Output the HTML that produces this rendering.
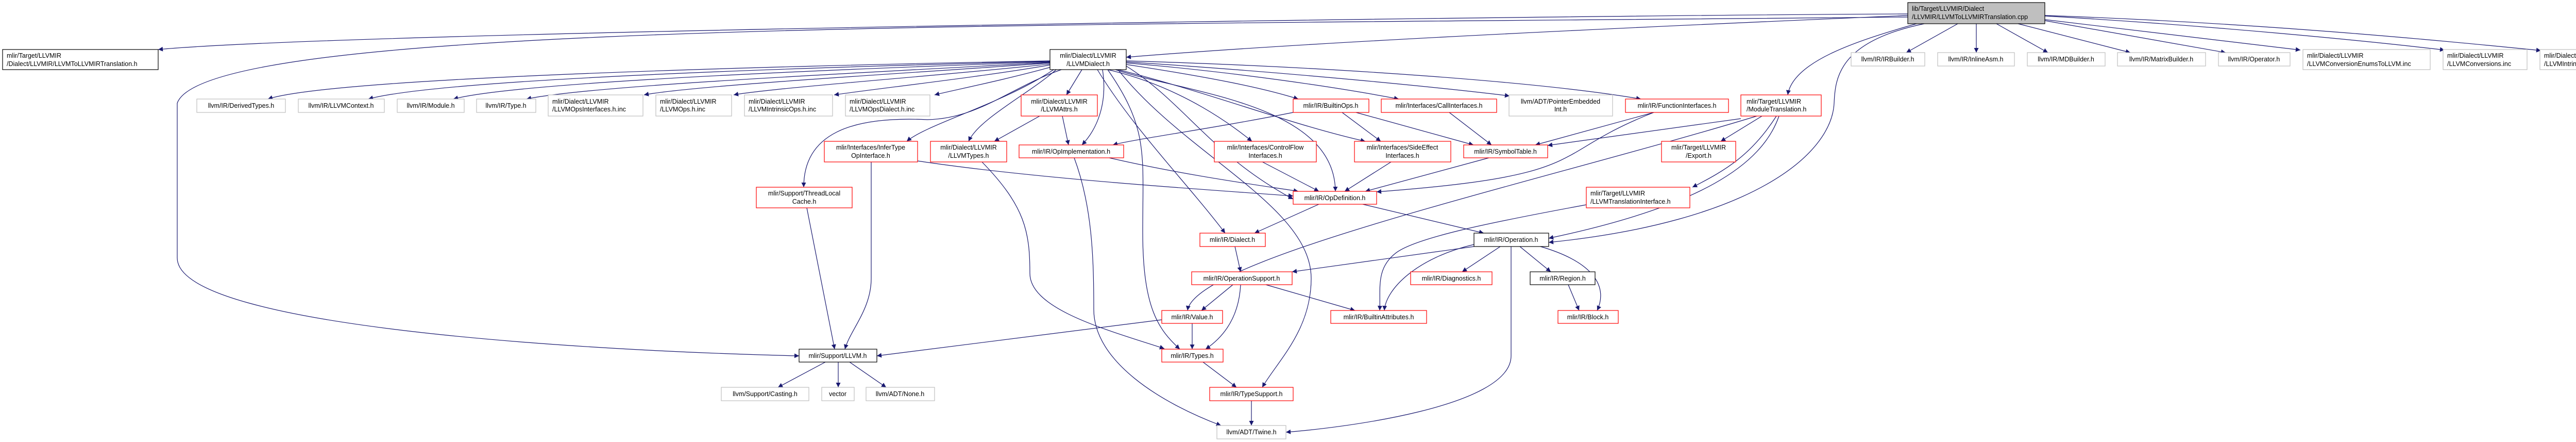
<!DOCTYPE html>
<html><head><meta charset="utf-8"><style>
html,body{margin:0;padding:0;background:#fff;}
svg{display:block;}
text{font-family:"Liberation Sans",sans-serif;font-size:12.5px;fill:#000;}
.e{fill:none;stroke:#191970;stroke-width:1.2;}
.b{fill:#fff;stroke:#000;stroke-width:1.2;}
.r{fill:#fff;stroke:#ff0000;stroke-width:1.2;}
.g{fill:#fff;stroke:#bfbfbf;stroke-width:1.2;}
.root{fill:#bfbfbf;stroke:#000;stroke-width:1.2;}
</style></head><body>
<svg width="5149" height="857" viewBox="0 0 5149 857" xmlns="http://www.w3.org/2000/svg">
<defs><marker id="a" viewBox="0 0 10 10" refX="10" refY="5" markerWidth="11" markerHeight="9" markerUnits="userSpaceOnUse" orient="auto"><path d="M0,0 L10,5 L0,10 z" fill="#191970"/></marker></defs>
<g class="e" marker-end="url(#a)">
<!-- root edges -->
<path d="M3703,27 C3000,30 700,60 307,96"/>
<path d="M3703,30 C3000,60 2500,85 2186,111"/>
<path d="M3703,33 C2000,50 400,40 344,200 L344,500 C344,640 1200,682 1551,690"/>
<path d="M3800,46 L3700,102"/>
<path d="M3836,46 L3836,102"/>
<path d="M3875,46 L3975,102"/>
<path d="M3917,46 L4135,102"/>
<path d="M3969,40 L4320,102"/>
<path d="M3969,38 L4465,97"/>
<path d="M3969,31 C4300,50 4600,80 4745,97"/>
<path d="M3969,30 C4400,45 4750,80 4932,98"/>
<path d="M3720,46 C3600,80 3480,120 3470,184"/>
<path d="M3735,46 C3570,80 3562,150 3560,200 C3555,300 3400,430 3006,470"/>
<!-- LLVMDialect edges -->
<path d="M2038,118 C1500,128 650,150 520,192"/>
<path d="M2038,119 C1500,132 850,155 715,192"/>
<path d="M2038,120 C1600,135 1000,160 880,192"/>
<path d="M2038,121 C1700,140 1150,165 1022,192"/>
<path d="M2038,122 C1800,140 1350,165 1250,184"/>
<path d="M2038,124 C1850,145 1500,170 1424,184"/>
<path d="M2038,126 C1900,150 1700,172 1619,184"/>
<path d="M2040,130 C1950,155 1850,175 1814,184"/>
<path d="M2100,135 L2070,184"/>
<path d="M2050,135 C2000,180 1900,230 1880,274"/>
<path d="M2045,135 C1950,200 1800,240 1760,274"/>
<path d="M2060,135 C1960,170 1900,230 1800,232 C1650,225 1560,260 1560,363"/>
<path d="M2140,135 C2150,200 2130,250 2100,281"/>
<path d="M2150,135 C2230,250 2218,300 2218,450 C2218,600 2250,640 2290,677"/>
<path d="M2170,135 C2300,300 2545,400 2545,540 C2545,640 2480,700 2450,751"/>
<path d="M2186,125 C2350,150 2450,170 2520,192"/>
<path d="M2186,122 C2400,140 2600,170 2715,192"/>
<path d="M2186,120 C2500,140 2800,170 2930,186"/>
<path d="M2186,118 C2600,130 3000,160 3185,192"/>
<path d="M2150,135 C2300,170 2400,250 2430,274"/>
<path d="M2170,135 C2350,180 2500,240 2650,274"/>
<path d="M2165,135 C2300,180 2590,200 2592,371"/>
<path d="M2130,135 C2200,250 2300,350 2378,452"/>
<path d="M2186,128 C2300,200 2350,300 2510,386"/>
<!-- other edges -->
<path d="M2085,306 C2120,400 2123,500 2123,600 C2123,700 2250,780 2370,825"/>
<path d="M2018,225 L1930,274"/>
<path d="M2062,225 L2074,281"/>
<path d="M1781,312 C2000,345 2300,365 2510,380"/>
<path d="M1691,314 L1691,540 C1691,600 1650,640 1640,677"/>
<path d="M1906,314 C1990,400 1999,450 1999,530 C1999,600 2150,640 2260,676"/>
<path d="M2153,306 C2300,340 2450,360 2520,371"/>
<path d="M1566,403 L1620,677"/>
<path d="M2510,218 C2350,250 2200,270 2160,281"/>
<path d="M2605,218 L2680,274"/>
<path d="M2632,218 L2860,281"/>
<path d="M2813,218 L2895,281"/>
<path d="M3210,218 L2980,281"/>
<path d="M3210,218 C3000,300 3100,340 2672,372"/>
<path d="M3379,230 L3004,282"/>
<path d="M3410,225 C3000,350 2320,500 2305,602"/>
<path d="M3420,225 L3340,274"/>
<path d="M3448,225 C3400,300 3350,330 3285,363"/>
<path d="M3453,225 C3420,320 3300,400 3006,462"/>
<path d="M2435,306 L2560,371"/>
<path d="M2700,314 L2610,371"/>
<path d="M2890,306 L2650,371"/>
<path d="M2560,396 L2435,452"/>
<path d="M2645,396 L2880,452"/>
<path d="M3079,397 C2900,430 2750,460 2710,490 C2670,520 2680,560 2678,602"/>
<path d="M2861,474 C2750,500 2690,560 2687,602"/>
<path d="M2861,478 L2508,527"/>
<path d="M2912,478 L2838,527"/>
<path d="M2950,478 L3010,527"/>
<path d="M2990,478 C3100,510 3120,560 3100,602"/>
<path d="M2933,478 L2933,690 C2933,790 2600,830 2496,838"/>
<path d="M2397,478 L2408,527"/>
<path d="M2393,552 L2332,602"/>
<path d="M2408,552 C2405,610 2380,650 2340,677"/>
<path d="M2457,552 L2630,602"/>
<path d="M2314,627 L2314,677"/>
<path d="M2255,620 L1702,690"/>
<path d="M3044,552 L3065,602"/>
<path d="M2335,702 L2400,751"/>
<path d="M2429,777 L2429,825"/>
<path d="M1602,702 L1510,751"/>
<path d="M1627,702 L1627,751"/>
<path d="M1649,702 L1720,751"/>
</g>
<!-- nodes -->
<rect class="root" x="3703" y="5" width="266" height="41"/>
<text x="3711" y="21">lib/Target/LLVMIR/Dialect</text><text x="3711" y="37">/LLVMIR/LLVMToLLVMIRTranslation.cpp</text>
<rect class="b" x="5" y="96" width="302" height="39"/>
<text x="13" y="112">mlir/Target/LLVMIR</text><text x="13" y="128">/Dialect/LLVMIR/LLVMToLLVMIRTranslation.h</text>
<rect class="b" x="2038" y="96" width="148" height="39"/>
<text x="2112" y="112" text-anchor="middle">mlir/Dialect/LLVMIR</text><text x="2112" y="128" text-anchor="middle">/LLVMDialect.h</text>
<g text-anchor="middle">
<rect class="g" x="3593" y="102" width="143" height="26"/><text x="3664" y="119">llvm/IR/IRBuilder.h</text>
<rect class="g" x="3761" y="102" width="149" height="26"/><text x="3835" y="119">llvm/IR/InlineAsm.h</text>
<rect class="g" x="3935" y="102" width="151" height="26"/><text x="4010" y="119">llvm/IR/MDBuilder.h</text>
<rect class="g" x="4110" y="102" width="171" height="26"/><text x="4195" y="119">llvm/IR/MatrixBuilder.h</text>
<rect class="g" x="4306" y="102" width="139" height="26"/><text x="4375" y="119">llvm/IR/Operator.h</text>
<rect class="g" x="382" y="192" width="172" height="26"/><text x="468" y="209">llvm/IR/DerivedTypes.h</text>
<rect class="g" x="579" y="192" width="167" height="26"/><text x="662" y="209">llvm/IR/LLVMContext.h</text>
<rect class="g" x="771" y="192" width="130" height="26"/><text x="836" y="209">llvm/IR/Module.h</text>
<rect class="g" x="925" y="192" width="115" height="26"/><text x="982" y="209">llvm/IR/Type.h</text>
<rect class="r" x="2510" y="192" width="147" height="26"/><text x="2583" y="209">mlir/IR/BuiltinOps.h</text>
<rect class="r" x="2681" y="192" width="224" height="26"/><text x="2793" y="209">mlir/Interfaces/CallInterfaces.h</text>
<rect class="r" x="3155" y="192" width="200" height="26"/><text x="3255" y="209">mlir/IR/FunctionInterfaces.h</text>
<rect class="r" x="1978" y="281" width="203" height="25"/><text x="2079" y="298">mlir/IR/OpImplementation.h</text>
<rect class="r" x="2841" y="281" width="163" height="25"/><text x="2922" y="298">mlir/IR/SymbolTable.h</text>
<rect class="r" x="2510" y="371" width="162" height="25"/><text x="2591" y="388">mlir/IR/OpDefinition.h</text>
<rect class="r" x="2329" y="452" width="127" height="26"/><text x="2392" y="469">mlir/IR/Dialect.h</text>
<rect class="b" x="2861" y="452" width="145" height="26"/><text x="2933" y="469">mlir/IR/Operation.h</text>
<rect class="r" x="2313" y="527" width="195" height="25"/><text x="2410" y="544">mlir/IR/OperationSupport.h</text>
<rect class="r" x="2738" y="527" width="158" height="25"/><text x="2817" y="544">mlir/IR/Diagnostics.h</text>
<rect class="b" x="2970" y="527" width="126" height="25"/><text x="3033" y="544">mlir/IR/Region.h</text>
<rect class="r" x="2255" y="602" width="118" height="25"/><text x="2314" y="619">mlir/IR/Value.h</text>
<rect class="r" x="2583" y="602" width="186" height="25"/><text x="2676" y="619">mlir/IR/BuiltinAttributes.h</text>
<rect class="r" x="3024" y="602" width="117" height="25"/><text x="3082" y="619">mlir/IR/Block.h</text>
<rect class="b" x="1551" y="677" width="151" height="25"/><text x="1626" y="694">mlir/Support/LLVM.h</text>
<rect class="r" x="2255" y="677" width="119" height="25"/><text x="2314" y="694">mlir/IR/Types.h</text>
<rect class="r" x="2348" y="751" width="162" height="26"/><text x="2429" y="768">mlir/IR/TypeSupport.h</text>
<rect class="g" x="1400" y="751" width="170" height="26"/><text x="1485" y="768">llvm/Support/Casting.h</text>
<rect class="g" x="1595" y="751" width="63" height="26"/><text x="1626" y="768">vector</text>
<rect class="g" x="1681" y="751" width="133" height="26"/><text x="1747" y="768">llvm/ADT/None.h</text>
<rect class="g" x="2362" y="825" width="134" height="26"/><text x="2429" y="842">llvm/ADT/Twine.h</text>
<rect class="r" x="1982" y="184" width="148" height="41"/><text x="2056" y="201">mlir/Dialect/LLVMIR</text><text x="2056" y="216">/LLVMAttrs.h</text>
<rect class="g" x="2929" y="184" width="201" height="41"/><text x="3029" y="201">llvm/ADT/PointerEmbedded</text><text x="3029" y="216">Int.h</text>
<rect class="r" x="1600" y="274" width="181" height="40"/><text x="1690" y="290">mlir/Interfaces/InferType</text><text x="1690" y="306">OpInterface.h</text>
<rect class="r" x="1806" y="274" width="148" height="40"/><text x="1880" y="290">mlir/Dialect/LLVMIR</text><text x="1880" y="306">/LLVMTypes.h</text>
<rect class="r" x="2357" y="274" width="198" height="40"/><text x="2456" y="290">mlir/Interfaces/ControlFlow</text><text x="2456" y="306">Interfaces.h</text>
<rect class="r" x="2629" y="274" width="187" height="40"/><text x="2722" y="290">mlir/Interfaces/SideEffect</text><text x="2722" y="306">Interfaces.h</text>
<rect class="r" x="3225" y="274" width="144" height="40"/><text x="3297" y="290">mlir/Target/LLVMIR</text><text x="3297" y="306">/Export.h</text>
<rect class="r" x="1468" y="363" width="186" height="40"/><text x="1561" y="379">mlir/Support/ThreadLocal</text><text x="1561" y="395">Cache.h</text>
</g>
<rect class="r" x="3379" y="184" width="156" height="41"/><text x="3390" y="201">mlir/Target/LLVMIR</text><text x="3390" y="216">/ModuleTranslation.h</text>
<rect class="r" x="3079" y="363" width="201" height="40"/><text x="3087" y="379">mlir/Target/LLVMIR</text><text x="3087" y="395">/LLVMTranslationInterface.h</text>
<rect class="g" x="4470" y="96" width="247" height="39"/><text x="4478" y="112">mlir/Dialect/LLVMIR</text><text x="4478" y="128">/LLVMConversionEnumsToLLVM.inc</text>
<rect class="g" x="4742" y="96" width="163" height="39"/><text x="4750" y="112">mlir/Dialect/LLVMIR</text><text x="4750" y="128">/LLVMConversions.inc</text>
<rect class="g" x="4930" y="96" width="215" height="39"/><text x="4938" y="112">mlir/Dialect/LLVMIR</text><text x="4938" y="128">/LLVMIntrinsicConversions.inc</text>
<rect class="g" x="1064" y="184" width="184" height="41"/><text x="1072" y="201">mlir/Dialect/LLVMIR</text><text x="1072" y="216">/LLVMOpsInterfaces.h.inc</text>
<rect class="g" x="1273" y="184" width="147" height="41"/><text x="1281" y="201">mlir/Dialect/LLVMIR</text><text x="1281" y="216">/LLVMOps.h.inc</text>
<rect class="g" x="1445" y="184" width="171" height="41"/><text x="1453" y="201">mlir/Dialect/LLVMIR</text><text x="1453" y="216">/LLVMIntrinsicOps.h.inc</text>
<rect class="g" x="1641" y="184" width="164" height="41"/><text x="1649" y="201">mlir/Dialect/LLVMIR</text><text x="1649" y="216">/LLVMOpsDialect.h.inc</text>
</svg>
</body></html>
